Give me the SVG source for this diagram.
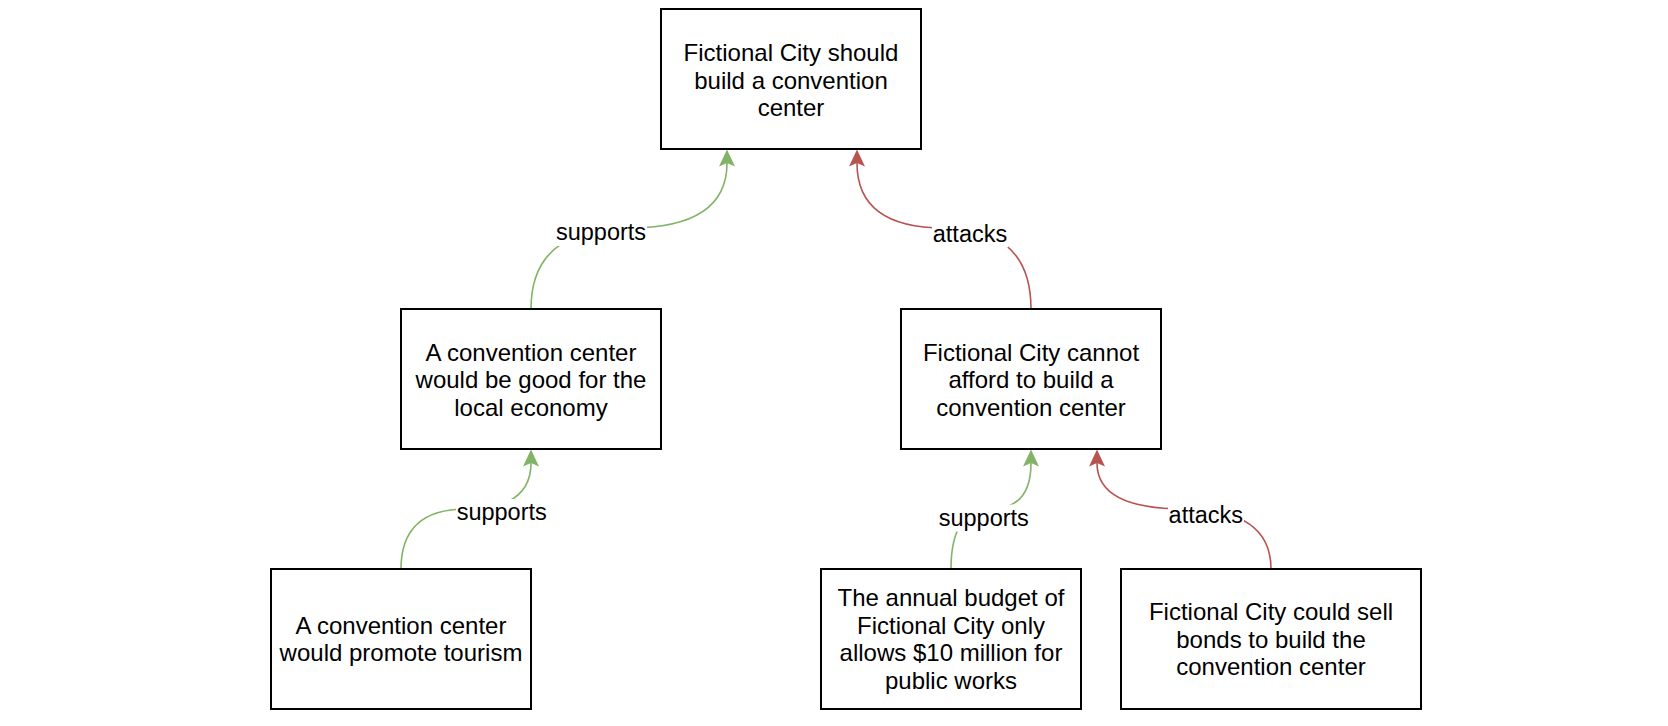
<svg xmlns="http://www.w3.org/2000/svg" width="1668" height="726" viewBox="0 0 1668 726">
<style>
.node rect{fill:#ffffff;stroke:#000000;stroke-width:2}
.node text{font-family:"Liberation Sans",Arial,Helvetica,sans-serif;font-size:24px;fill:#000000;text-anchor:middle}
.edge path{fill:none;stroke-width:1.6}
.sup path{stroke:#82b366}
.att path{stroke:#b85450}
.lbl rect{fill:#ffffff;stroke:none}
.lbl text{font-family:"Liberation Sans",Arial,Helvetica,sans-serif;font-size:23.5px;fill:#000000;text-anchor:middle}
</style>
<defs>
<marker id="arrG" viewBox="-4 -9 18 18" refX="0" refY="0" markerWidth="18" markerHeight="18" markerUnits="userSpaceOnUse" orient="auto">
<path d="M13.5,0 L-3.5,-8 L0,0 L-3.5,8 Z" fill="#82b366"/>
</marker>
<marker id="arrR" viewBox="-4 -9 18 18" refX="0" refY="0" markerWidth="18" markerHeight="18" markerUnits="userSpaceOnUse" orient="auto">
<path d="M13.5,0 L-3.5,-8 L0,0 L-3.5,8 Z" fill="#b85450"/>
</marker>
</defs>
<rect x="0" y="0" width="1668" height="726" fill="#ffffff"/>

<g id="connectors">
<g id="e1" class="edge sup"><path d="M531,309 Q531,228 629,228 Q727,228 727,163" marker-end="url(#arrG)"/></g>
<g id="e2" class="edge att"><path d="M1031,309 Q1031,228 944,228 Q857,228 857,163" marker-end="url(#arrR)"/></g>
<g id="e3" class="edge sup"><path d="M401,569 Q401,509 466,509 Q531,509 531,463" marker-end="url(#arrG)"/></g>
<g id="e4" class="edge sup"><path d="M951,569 Q951,509 991,509 Q1031,509 1031,463" marker-end="url(#arrG)"/></g>
<g id="e5" class="edge att"><path d="M1271,569 Q1271,509 1184,509 Q1097,509 1097,463" marker-end="url(#arrR)"/></g>
<g class="lbl">
<rect x="555" y="219" width="92" height="27"/><text x="601" y="240">supports</text>
<rect x="932" y="220.5" width="76" height="27"/><text x="970" y="241.5">attacks</text>
<rect x="456" y="499" width="91" height="27"/><text x="501.7" y="520">supports</text>
<rect x="938" y="504.5" width="92" height="27"/><text x="983.8" y="525.5">supports</text>
<rect x="1168" y="502" width="76" height="27"/><text x="1205.8" y="523.3">attacks</text>
</g>
</g>

<g id="n-main" class="node">
<rect x="661" y="9" width="260" height="140"/>
<text x="791" y="61">Fictional City should</text>
<text x="791" y="88.5">build a convention</text>
<text x="791" y="116">center</text>
</g>
<g id="n-economy" class="node">
<rect x="401" y="309" width="260" height="140"/>
<text x="531" y="360.5">A convention center</text>
<text x="531" y="388">would be good for the</text>
<text x="531" y="415.5">local economy</text>
</g>
<g id="n-afford" class="node">
<rect x="901" y="309" width="260" height="140"/>
<text x="1031" y="360.5">Fictional City cannot</text>
<text x="1031" y="388">afford to build a</text>
<text x="1031" y="415.5">convention center</text>
</g>
<g id="n-tourism" class="node">
<rect x="271" y="569" width="260" height="140"/>
<text x="401" y="633.5">A convention center</text>
<text x="401" y="661">would promote tourism</text>
</g>
<g id="n-budget" class="node">
<rect x="821" y="569" width="260" height="140"/>
<text x="951" y="606.25">The annual budget of</text>
<text x="951" y="633.75">Fictional City only</text>
<text x="951" y="661.25">allows $10 million for</text>
<text x="951" y="688.75">public works</text>
</g>
<g id="n-bonds" class="node">
<rect x="1121" y="569" width="300" height="140"/>
<text x="1271" y="620">Fictional City could sell</text>
<text x="1271" y="647.5">bonds to build the</text>
<text x="1271" y="675">convention center</text>
</g>
</svg>
